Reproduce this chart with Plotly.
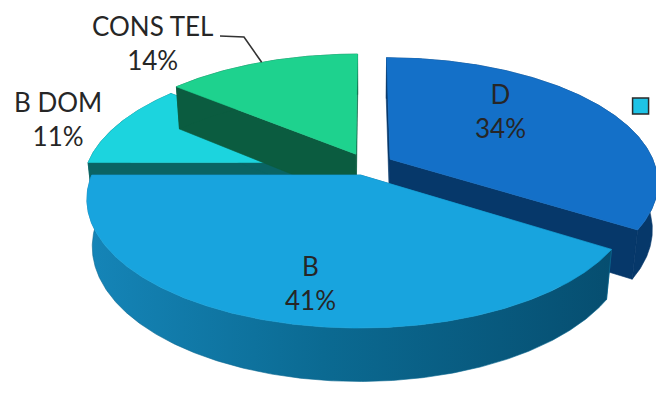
import numpy as np
import plotly.graph_objects as go

# ---------------- data ----------------
labels = ["D", "B", "B DOM", "CONS TEL"]
values = [34, 41, 11, 14]
legend_label = " "  # legend text lies beyond the cropped right edge

# ---------------- style ----------------
explode = {"D": 0.10, "B": 0.085, "B DOM": 0.06, "CONS TEL": 0.10}
top_colors = {"D": "#1470c8", "B": "#18a4de", "B DOM": "#1cd4de", "CONS TEL": "#1ed28e"}
wall_colors = {"D": "#06386a", "B": "#0b6890", "B DOM": "#0a6464", "CONS TEL": "#0b5c40"}
draw_order = ["B DOM", "CONS TEL", "D", "B"]
label_pos = {"D": (500, 111), "B": (310, 283), "B DOM": (58, 119), "CONS TEL": (152, 43)}

W, H = 656, 394
CX, CY = 367, 165
K = 265
PHI = np.radians(27.3)
DIST = 4.96
DEPTH = 0.20
FONT = "Lato"


def proj(X, Y, Z):
    X = np.asarray(X, float)
    Y = np.asarray(Y, float)
    Z = np.asarray(Z, float) * np.ones_like(X)
    yv = Y * np.sin(PHI) + Z * np.cos(PHI)
    zv = Y * np.cos(PHI) - Z * np.sin(PHI)
    s = DIST / (DIST + zv)
    return CX + K * X * s, CY - K * yv * s


total = float(sum(values))
angles = {}
acc = 0.0
for lab, v in zip(labels, values):
    t1 = acc / total * 2 * np.pi
    acc += v
    t2 = acc / total * 2 * np.pi
    angles[lab] = (t1, t2)

fig = go.Figure()


def poly(xs, ys, color, gradient=None):
    kw = dict(x=list(xs) + [xs[0]], y=list(ys) + [ys[0]], mode="lines", fill="toself",
              fillcolor=color, line=dict(color=color, width=0.6),
              hoverinfo="skip", showlegend=False)
    if gradient is not None:
        kw["fillgradient"] = gradient
    fig.add_trace(go.Scatter(**kw))


for lab in draw_order:
    t1, t2 = angles[lab]
    e = explode[lab]
    mid = (t1 + t2) / 2
    ox, oy = e * np.sin(mid), e * np.cos(mid)
    n = max(3, int(np.degrees(t2 - t1) * 2))
    th = np.linspace(t1, t2, n)
    rx = ox + np.sin(th)
    ry = oy + np.cos(th)
    wc = wall_colors[lab]
    # radial walls
    for t in (t1, t2):
        X = [ox, ox + np.sin(t), ox + np.sin(t), ox]
        Y = [oy, oy + np.cos(t), oy + np.cos(t), oy]
        Z = [0, 0, -DEPTH, -DEPTH]
        xs, ys = proj(X, Y, Z)
        poly(xs, ys, wc)
    # outer wall
    xt, yt = proj(rx, ry, 0)
    xb, yb = proj(rx[::-1], ry[::-1], -DEPTH)
    grad = None
    if lab == "B":
        grad = dict(type="horizontal",
                    colorscale=[[0, "#1585b8"], [0.45, "#0b6a92"], [1, "#064e70"]])
    poly(np.concatenate([xt, xb]), np.concatenate([yt, yb]), wc, grad)
    # top face
    xs, ys = proj(np.concatenate([[ox], rx]), np.concatenate([[oy], ry]), 0)
    poly(xs, ys, top_colors[lab])

# leader line for CONS TEL
t1, t2 = angles["CONS TEL"]
mid = (t1 + t2) / 2
e = explode["CONS TEL"]
px, py = proj([e * np.sin(mid) + np.sin(mid)], [e * np.cos(mid) + np.cos(mid)], 0)
lx, ly = label_pos["CONS TEL"]
fig.add_trace(go.Scatter(x=[lx + 68, lx + 92, px[0]], y=[ly - 7, ly - 6, py[0]],
                         mode="lines", line=dict(color="#333333", width=1.6),
                         hoverinfo="skip", showlegend=False))

# labels
for lab, v in zip(labels, values):
    x, y = label_pos[lab]
    fig.add_annotation(x=x, y=y, xref="x", yref="y", text=f"{lab}<br>{v}%",
                       showarrow=False, align="center", xanchor="center", yanchor="middle",
                       font=dict(family=FONT, size=26, color="#262626"))

# legend (cropped at right edge)
fig.add_trace(go.Scatter(x=[None], y=[None], mode="markers", name=legend_label,
                         marker=dict(symbol="square", size=17, color="#1ec3e6",
                                     line=dict(color="#2a2a2a", width=1.5)),
                         showlegend=True))

fig.update_layout(
    width=W, height=H,
    margin=dict(l=0, r=0, t=0, b=0, autoexpand=False),
    paper_bgcolor="white", plot_bgcolor="white",
    xaxis=dict(range=[0, W], visible=False, fixedrange=True),
    yaxis=dict(range=[H, 0], visible=False, fixedrange=True),
    showlegend=True,
    legend=dict(x=0.946, y=1 - 106 / H, xanchor="left", yanchor="middle",
                bgcolor="rgba(0,0,0,0)", font=dict(family=FONT, size=20, color="#262626")),
)

fig.write_html("out.html")
